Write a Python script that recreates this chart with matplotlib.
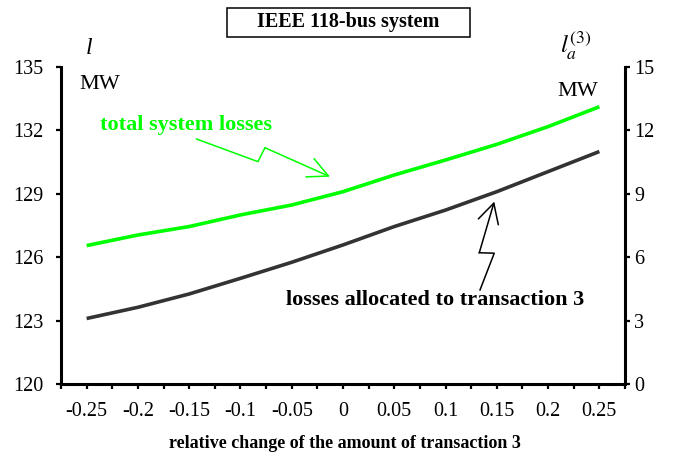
import matplotlib
matplotlib.use('Agg')
import matplotlib.pyplot as plt
from matplotlib.patches import Rectangle

plt.rcParams['font.family'] = ['Liberation Serif', 'DejaVu Serif']
plt.rcParams['mathtext.fontset'] = 'stix'

# ---- data ----
x_values = [-0.25, -0.2, -0.15, -0.1, -0.05, 0, 0.05, 0.1, 0.15, 0.2, 0.25]
x_tick_labels = ['-0.25', '-0.2', '-0.15', '-0.1', '-0.05', '0',
                 '0.05', '0.1', '0.15', '0.2', '0.25']
total_losses = [126.55, 127.05, 127.45, 128.0, 128.47, 129.1,
                129.89, 130.6, 131.34, 132.18, 133.12]
allocated_losses = [3.1, 3.63, 4.26, 5.0, 5.76, 6.58,
                    7.45, 8.23, 9.1, 10.05, 11.0]
left_ticks = [120, 123, 126, 129, 132, 135]
right_ticks = [0, 3, 6, 9, 12, 15]
minor_x_ticks = [-0.275, -0.225, -0.175, -0.125, -0.075, -0.025,
                 0.025, 0.075, 0.125, 0.175, 0.225, 0.275]

W, H = 673, 462
fig = plt.figure(figsize=(W / 100, H / 100), dpi=100)
L, R, T, B = 61, 625, 67, 384
ax = fig.add_axes([L / W, 1 - B / H, (R - L) / W, (B - T) / H])
ax2 = ax.twinx()

ax.set_xlim(-0.275, 0.275)
ax.set_ylim(120, 135)
ax2.set_ylim(0, 15)

GREEN = '#00ff00'
DARK = '#333333'
ax.plot(x_values, total_losses, color=GREEN, lw=2.6, solid_capstyle='butt')
ax2.plot(x_values, allocated_losses, color=DARK, lw=2.6, solid_capstyle='butt')

# spines
for s in ['top', 'right']:
    ax.spines[s].set_visible(False)
for s in ['top', 'left', 'bottom']:
    ax2.spines[s].set_visible(False)
for sp in [ax.spines['left'], ax.spines['bottom'], ax2.spines['right']]:
    sp.set_linewidth(2.2)

ax.set_xticks(x_values)
ax.set_xticklabels(x_tick_labels, fontsize=14.5)
ax.set_xticks(minor_x_ticks, minor=True)
ax.tick_params(axis='x', which='both', direction='out', length=3.8, width=1.6, pad=9)
ax.set_yticks(left_ticks)
ax.set_yticklabels([str(v) for v in left_ticks], fontsize=14.5)
ax.tick_params(axis='y', direction='out', length=3.8, width=1.6, pad=9)
ax2.set_yticks(right_ticks)
ax2.set_yticklabels([str(v) for v in right_ticks], fontsize=14.5)
ax2.tick_params(axis='y', direction='out', length=3.8, width=1.6, pad=3)

# axis label
fig.text(345 / W, 1 - 444 / H, 'relative change of the amount of transaction 3',
         ha='center', va='center', fontsize=13, fontweight='bold')

# unit labels
fig.text(89 / W, 1 - 48 / H, 'l', ha='center', va='center', fontsize=17, style='italic')
fig.text(100 / W, 1 - 85 / H, 'MW', ha='center', va='center', fontsize=16)
fig.text(576 / W, 1 - 45 / H, r'$l_a^{(3)}$', ha='center', va='center', fontsize=18)
fig.text(578 / W, 1 - 92 / H, 'MW', ha='center', va='center', fontsize=16)

# title box
fig.patches.append(Rectangle((227 / W, 1 - 37 / H), 243 / W, 29 / H,
                             transform=fig.transFigure, fill=False,
                             edgecolor='black', lw=1.1))
fig.text(348 / W, 1 - 22 / H, 'IEEE 118-bus system', ha='center', va='center',
         fontsize=14.5, fontweight='bold')

# series annotations
fig.text(186 / W, 1 - 125 / H, 'total system losses', ha='center', va='center',
         fontsize=16, fontweight='bold', color=GREEN)
fig.text(435 / W, 1 - 300 / H, 'losses allocated to transaction 3', ha='center',
         va='center', fontsize=16, fontweight='bold', color='black')

# zigzag arrows (in right-axis data coordinates)
gz = [(-0.1427, 11.59), (-0.0829, 10.52), (-0.0761, 11.18), (-0.0127, 9.81)]
ax2.plot([p[0] for p in gz[:3]], [p[1] for p in gz[:3]], color=GREEN, lw=1.1)
ax2.annotate('', xy=gz[3], xytext=gz[2],
             arrowprops=dict(arrowstyle='->,head_length=1.45,head_width=0.72',
                             mutation_scale=10, color=GREEN, lw=1.1,
                             shrinkA=0, shrinkB=0))
bz = [(0.1336, 4.45), (0.1475, 6.19), (0.1329, 6.21), (0.1475, 8.63)]
ax2.plot([p[0] for p in bz[:3]], [p[1] for p in bz[:3]], color='black', lw=1.1)
ax2.annotate('', xy=bz[3], xytext=bz[2],
             arrowprops=dict(arrowstyle='->,head_length=1.4,head_width=0.75',
                             mutation_scale=10, color='black', lw=1.1,
                             shrinkA=0, shrinkB=0))

fig.savefig('out.png', dpi=100)
